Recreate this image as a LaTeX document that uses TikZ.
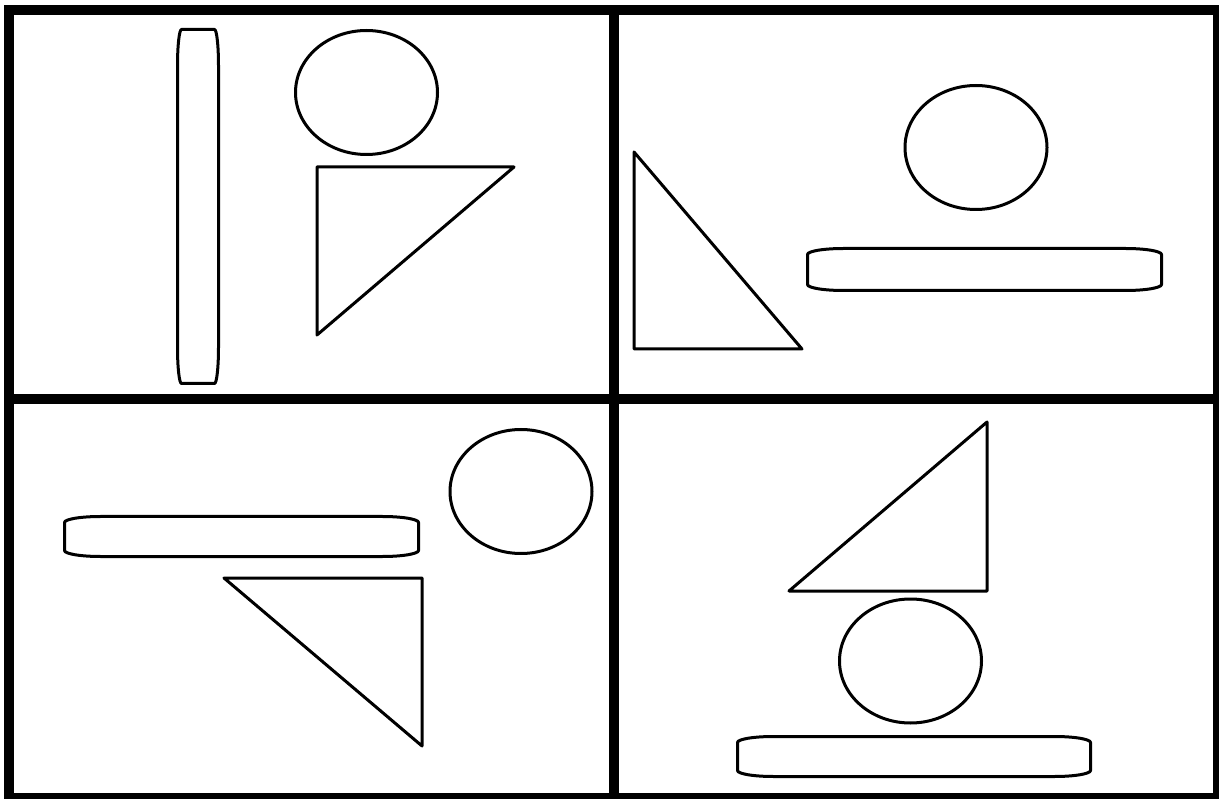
\documentclass[tikz,border=0pt]{standalone}
\usepackage{tikz}

\begin{document}
\begin{tikzpicture}[x=1pt, y=-1pt,
        frame/.style={draw, line width=10pt},
        outline/.style={draw, line width=3pt, line join=round},
        hcap/.style={x radius=36, y radius=6},
        vcap/.style={x radius=4, y radius=36}]

    \useasboundingbox (0,0) rectangle (1219,799);
    \clip (0,0) rectangle (1219,799);

    \draw[frame] (9,10) rectangle (1218,798);
    \draw[frame] (614,10) -- (614,798);
    \draw[frame] (9,399) -- (1218,399);

    % top left
    \path[outline] (181.5,29.5) -- (214.5,29.5) arc[start angle=270, end angle=360, vcap] -- (218.5,347.5) arc[start angle=0, end angle=90, vcap] -- (181.5,383.5) arc[start angle=90, end angle=180, vcap] -- (177.5,65.5) arc[start angle=180, end angle=270, vcap] -- cycle;
    \draw[outline] (366.5,92.5) ellipse[x radius=71, y radius=62];
    \draw[outline] (317,167) -- (514,167) -- (317,335) -- cycle;

    % top right
    \draw[outline] (976,147.5) ellipse[x radius=71, y radius=62];
    \draw[outline] (634,152) -- (802,349) -- (634,349) -- cycle;
    \path[outline] (843.5,248.5) -- (1125.5,248.5) arc[start angle=270, end angle=360, hcap] -- (1161.5,284.5) arc[start angle=0, end angle=90, hcap] -- (843.5,290.5) arc[start angle=90, end angle=180, hcap] -- (807.5,254.5) arc[start angle=180, end angle=270, hcap] -- cycle;

    % bottom left
    \draw[outline] (521,491.5) ellipse[x radius=71, y radius=62];
    \path[outline] (100.5,516.5) -- (382.5,516.5) arc[start angle=270, end angle=360, hcap] -- (418.5,550.5) arc[start angle=0, end angle=90, hcap] -- (100.5,556.5) arc[start angle=90, end angle=180, hcap] -- (64.5,522.5) arc[start angle=180, end angle=270, hcap] -- cycle;
    \draw[outline] (224,578) -- (422,578) -- (422,746) -- cycle;

    % bottom right
    \draw[outline] (789,591) -- (987,591) -- (987,422) -- cycle;
    \draw[outline] (910.5,661) ellipse[x radius=71, y radius=62];
    \path[outline] (773.5,736.5) -- (1054.5,736.5) arc[start angle=270, end angle=360, hcap] -- (1090.5,770.5) arc[start angle=0, end angle=90, hcap] -- (773.5,776.5) arc[start angle=90, end angle=180, hcap] -- (737.5,742.5) arc[start angle=180, end angle=270, hcap] -- cycle;
\end{tikzpicture}
\end{document}
